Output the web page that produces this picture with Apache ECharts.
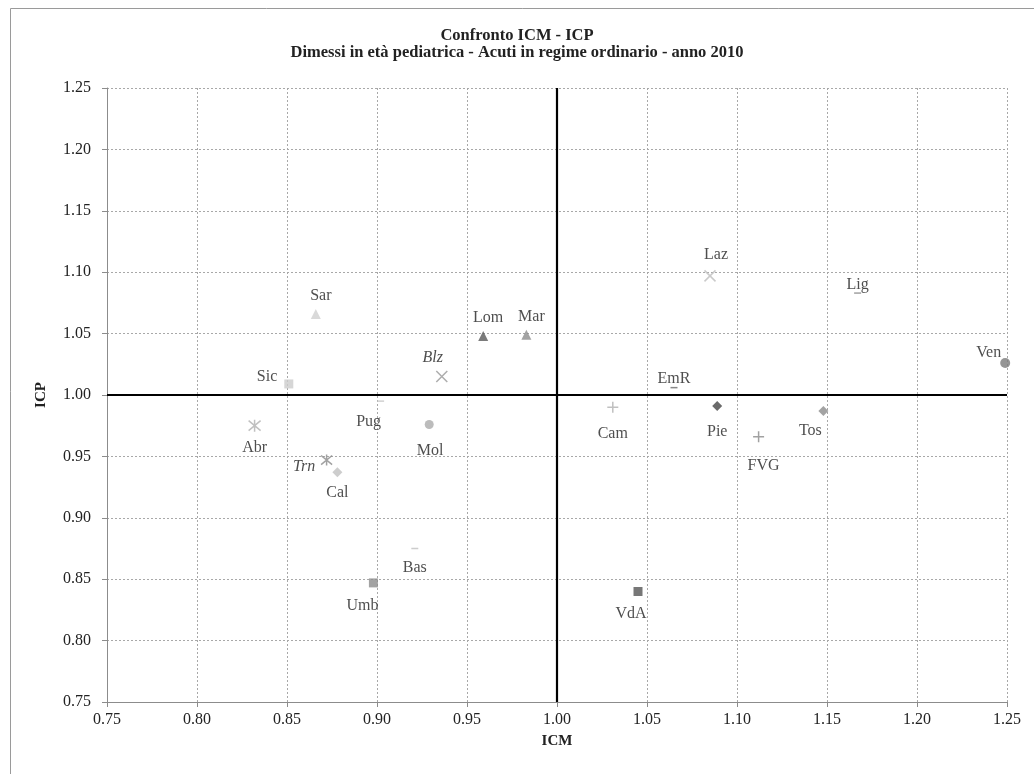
<!DOCTYPE html>
<html>
<head>
<meta charset="utf-8">
<title>Confronto ICM - ICP</title>
<script src="https://cdn.jsdelivr.net/npm/echarts@6/dist/echarts.min.js"></script>
<style>
  html, body { margin: 0; padding: 0; background: #fff; }
  #chart { width: 1034px; height: 774px; }
</style>
</head>
<body>
<div id="chart"></div>
<script>
// Regional data: case-mix index (ICM) vs comparative performance index (ICP)
const regions = ['Sar', 'Sic', 'Blz', 'Pug', 'Mol', 'Abr', 'Trn', 'Cal', 'Bas', 'Umb', 'Lom',
                 'Mar', 'Laz', 'EmR', 'Cam', 'Pie', 'Lig', 'Ven', 'Tos', 'FVG', 'VdA'];
const icm = [0.866, 0.851, 0.936, 0.902, 0.929, 0.832, 0.872, 0.878, 0.921, 0.898, 0.959,
             0.983, 1.085, 1.065, 1.031, 1.089, 1.167, 1.249, 1.148, 1.112, 1.045];
const icp = [1.066, 1.009, 1.015, 0.995, 0.976, 0.975, 0.947, 0.937, 0.875, 0.847, 1.048,
             1.049, 1.097, 1.006, 0.990, 0.991, 1.083, 1.026, 0.987, 0.966, 0.840];
const axisTicks = [0.75, 0.80, 0.85, 0.90, 0.95, 1.00, 1.05, 1.10, 1.15, 1.20, 1.25];
const titleLines = ['Confronto ICM - ICP',
                    'Dimessi in età pediatrica - Acuti in regime ordinario - anno 2010'];

// Marker shapes
const P_CROSS = 'path://M0,0L10,10M10,0L0,10';
const P_STAR = 'path://M0,0L10,10M10,0L0,10M5,-1L5,11';
const P_PLUS = 'path://M5,0L5,10M0,5L10,5';

// Marker and label styling per region
const styles = {
  Sar: { sym: 'triangle', size: 10, color: '#cfcfcf', pos: 'top', off: [5, 0] },
  Sic: { sym: 'rect', size: 9, color: '#cccccc', pos: 'left', off: [-2, -7] },
  Blz: { sym: P_CROSS, size: 11, color: '#999999', stroke: true, pos: 'top', off: [-9, 0], italic: true },
  Pug: { sym: 'rect', size: [7, 1.5], color: '#c4c4c4', pos: 'bottom', off: [-12, 7] },
  Mol: { sym: 'circle', size: 9, color: '#ababab', pos: 'bottom', off: [1, 9] },
  Abr: { sym: P_STAR, size: 12, color: '#b0b0b0', stroke: true, pos: 'bottom', off: [0, 2] },
  Trn: { sym: P_STAR, size: 11, color: '#8a8a8a', stroke: true, pos: 'left', off: [0, 7], italic: true },
  Cal: { sym: 'diamond', size: 10, color: '#c0c0c0', pos: 'bottom', off: [0, 2] },
  Bas: { sym: 'rect', size: [7, 1.5], color: '#c0c0c0', pos: 'bottom', off: [0, 6] },
  Umb: { sym: 'rect', size: 9, color: '#8c8c8c', pos: 'bottom', off: [-11, 5] },
  Lom: { sym: 'triangle', size: 10, color: '#5a5a5a', pos: 'top', off: [5, 0] },
  Mar: { sym: 'triangle', size: 10, color: '#8c8c8c', pos: 'top', off: [5, 0] },
  Laz: { sym: P_CROSS, size: 11, color: '#bdbdbd', stroke: true, pos: 'top', off: [6, -2] },
  EmR: { sym: 'rect', size: [7, 1.5], color: '#6a6a6a', pos: 'top', off: [0, 5] },
  Cam: { sym: P_PLUS, size: 11, color: '#b0b0b0', stroke: true, pos: 'bottom', off: [0, 7] },
  Pie: { sym: 'diamond', size: 10, color: '#454545', pos: 'bottom', off: [0, 8] },
  Lig: { sym: 'rect', size: [7, 1.5], color: '#8a8a8a', pos: 'top', off: [0, 5] },
  Ven: { sym: 'circle', size: 10, color: '#7a7a7a', pos: 'left', off: [6, -10] },
  Tos: { sym: 'diamond', size: 10, color: '#8c8c8c', pos: 'bottom', off: [-13, 2] },
  FVG: { sym: P_PLUS, size: 11, color: '#8a8a8a', stroke: true, pos: 'bottom', off: [5, 10] },
  VdA: { sym: 'rect', size: 9, color: '#555555', pos: 'bottom', off: [-7, 5] }
};

const FONT = '"Liberation Serif", "DejaVu Serif", serif';

const series = regions.map((name, i) => {
  const s = styles[name];
  return {
    name: name,
    type: 'scatter',
    symbol: s.sym,
    symbolSize: s.size,
    itemStyle: s.stroke
      ? { color: 'rgba(0,0,0,0)', borderColor: s.color, borderWidth: 1.5 }
      : { color: s.color },
    label: {
      show: true,
      formatter: name,
      position: s.pos,
      offset: s.off,
      distance: 5,
      color: '#222',
      fontFamily: FONT,
      fontSize: 16,
      fontStyle: s.italic ? 'italic' : 'normal'
    },
    emphasis: { disabled: true },
    data: [[icm[i], icp[i]]],
    z: 3
  };
});

// Quadrant reference lines at ICM = 1 and ICP = 1
series.push({
  type: 'scatter',
  data: [],
  silent: true,
  markLine: {
    silent: true,
    symbol: 'none',
    label: { show: false },
    lineStyle: { color: '#000', width: 2.2, type: 'solid' },
    data: [{ xAxis: 1.0 }, { yAxis: 1.0 }]
  },
  z: 2
});

const chart = echarts.init(document.getElementById('chart'), null, { renderer: 'canvas' });

const axisCommon = {
  type: 'value',
  min: axisTicks[0],
  max: axisTicks[axisTicks.length - 1],
  interval: 0.05,
  axisLine: { show: true, lineStyle: { color: '#8c8c8c', width: 1 } },
  axisTick: { show: true, inside: false, length: 5, lineStyle: { color: '#8c8c8c' } },
  splitLine: { show: true, lineStyle: { color: '#a8a8a8', type: [2, 2], width: 1 } },
  axisLabel: {
    color: '#222',
    fontFamily: FONT,
    fontSize: 16,
    formatter: v => v.toFixed(2)
  },
  nameLocation: 'middle',
  nameTextStyle: { color: '#222', fontFamily: FONT, fontSize: 15, fontWeight: 'bold' }
};

const titleStyle = { fontFamily: FONT, fontSize: 16.5, fontWeight: 'bold', color: '#222' };

chart.setOption({
  backgroundColor: '#fff',
  animation: false,
  title: [
    { text: titleLines[0], left: 'center', top: 27, padding: 0, textStyle: titleStyle },
    { text: titleLines[1], left: 'center', top: 44, padding: 0, textStyle: titleStyle }
  ],
  graphic: [{
    type: 'rect',
    shape: { x: 10.5, y: 8.5, width: 1200, height: 1000 },
    style: { fill: 'none', stroke: '#9a9a9a', lineWidth: 1 },
    silent: true,
    z: -1
  }],
  grid: { left: 107, right: 27, top: 88, bottom: 72 },
  xAxis: Object.assign({}, axisCommon, {
    name: 'ICM',
    nameGap: 32,
    axisLabel: Object.assign({}, axisCommon.axisLabel, { margin: 10 })
  }),
  yAxis: Object.assign({}, axisCommon, {
    name: 'ICP',
    nameGap: 58,
    nameRotate: 90,
    axisLabel: Object.assign({}, axisCommon.axisLabel, { margin: 16 })
  }),
  series: series
});
</script>
</body>
</html>
